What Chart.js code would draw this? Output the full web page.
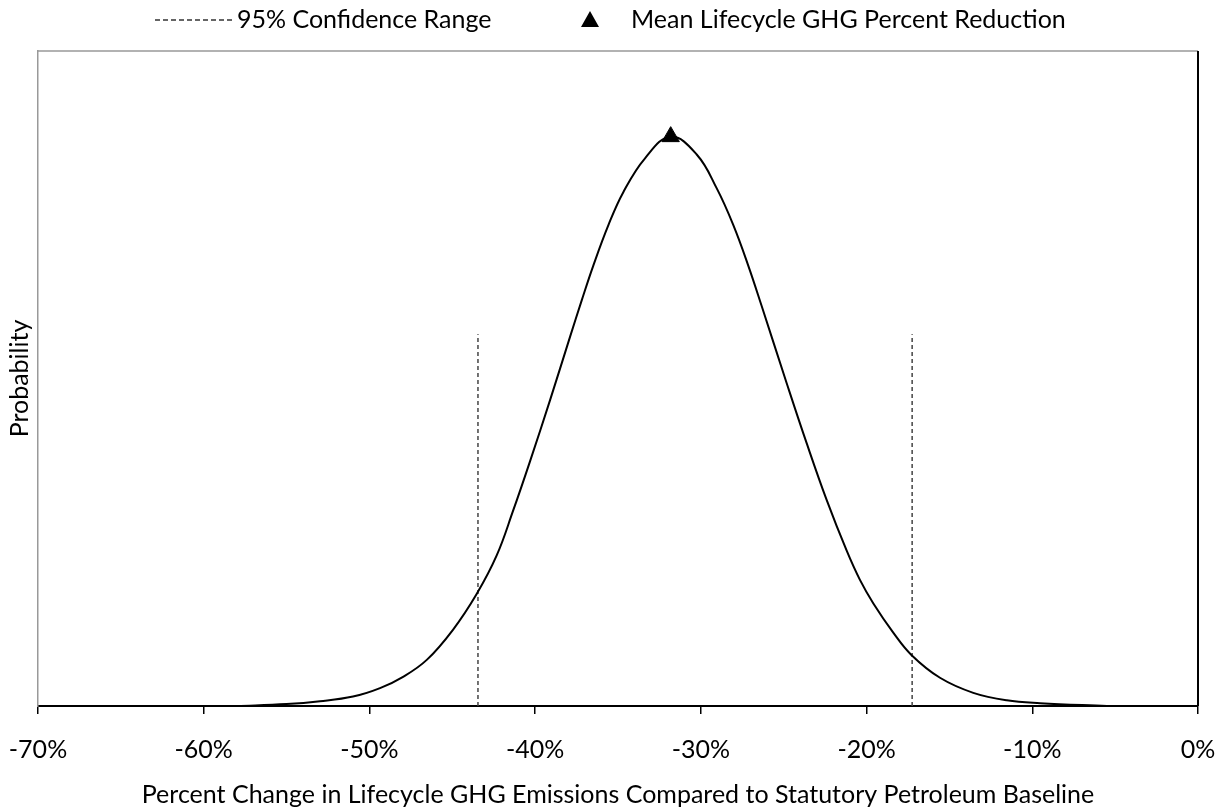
<!DOCTYPE html>
<html>
<head>
<meta charset="utf-8">
<script src="https://cdn.jsdelivr.net/npm/chart.js@4.4.0/dist/chart.umd.min.js"></script>
<style>
    html, body { margin: 0; padding: 0; background: #fff; }
    #wrap { width: 1220px; height: 810px; }
</style>
</head>
<body>
<div id="wrap"><canvas id="ghgChart" width="1220" height="810"></canvas></div>
<script>
// values (x in %, y in relative probability)
const curveX = [-58.0, -55.0, -52.98, -50.99, -49.36, -47.97, -46.54, -44.96, -43.53, -42.32,
    -41.34, -40.31, -39.10, -37.90, -37.19, -36.49, -35.58, -34.68, -33.37, -31.82,
    -30.25, -29.04, -28.04, -27.14, -26.33, -24.82, -23.61, -22.41, -21.20, -20.40,
    -19.59, -18.39, -17.28, -15.57, -13.56, -11.54, -9.53, -5.5];
const curveY = [0.0000, 0.0002, 0.0005, 0.0010, 0.0019, 0.0031, 0.0049, 0.0081, 0.0119, 0.0160,
    0.0207, 0.0260, 0.0325, 0.0392, 0.0431, 0.0468, 0.0511, 0.0546, 0.0582, 0.0605,
    0.0586, 0.0550, 0.0511, 0.0468, 0.0425, 0.0343, 0.0279, 0.0219, 0.0165, 0.0134,
    0.0109, 0.0078, 0.0054, 0.0030, 0.0014, 0.0006, 0.0003, 0.0000];

const ciLow = -43.45;
const ciHigh = -17.25;
const ciTop = 0.0395;

const meanX = -31.82;
const meanY = 0.0605;

const xTicks = [-70, -60, -50, -40, -30, -20, -10, 0];

const FONT = "Lato, 'Open Sans', sans-serif";
const FONT_SIZE = 25;

const curvePoints = curveX.map((x, i) => ({ x: x, y: curveY[i] }));

const ciPoints = [
    { x: ciLow, y: 0 }, { x: ciLow, y: ciTop },
    { x: (ciLow + ciHigh) / 2, y: null },
    { x: ciHigh, y: 0 }, { x: ciHigh, y: ciTop }
];

// legend drawn by hand so the dash and the triangle keep their own widths
const topLegend = {
    id: "topLegend",
    afterDraw(chart) {
        const ctx = chart.ctx;
        const y = 20;
        ctx.save();
        ctx.font = FONT_SIZE + "px " + FONT;
        ctx.fillStyle = "#000";
        ctx.textBaseline = "middle";

        // dashed line item
        ctx.strokeStyle = "#333";
        ctx.lineWidth = 1.5;
        ctx.setLineDash([5, 3]);
        ctx.beginPath();
        ctx.moveTo(155, y);
        ctx.lineTo(232, y);
        ctx.stroke();
        ctx.setLineDash([]);
        ctx.fillText(chart.data.datasets[1].label, 237, y);

        // triangle item
        ctx.beginPath();
        ctx.moveTo(590, y - 9);
        ctx.lineTo(599, y + 7);
        ctx.lineTo(581, y + 7);
        ctx.closePath();
        ctx.fill();
        ctx.fillText(chart.data.datasets[2].label, 631, y);
        ctx.restore();
    }
};

// top and right edges of the plot frame
const frame = {
    id: "frame",
    afterDraw(chart) {
        const a = chart.chartArea;
        const ctx = chart.ctx;
        ctx.save();
        ctx.strokeStyle = "#999";
        ctx.lineWidth = 1.5;
        ctx.beginPath();
        ctx.moveTo(a.left, a.top);
        ctx.lineTo(a.right, a.top);
        ctx.stroke();
        ctx.strokeStyle = "#000";
        ctx.lineWidth = 2;
        ctx.beginPath();
        ctx.moveTo(a.right, a.top);
        ctx.lineTo(a.right, a.bottom);
        ctx.stroke();
        ctx.restore();
    }
};

new Chart(document.getElementById("ghgChart"), {
    type: "scatter",
    data: {
        datasets: [
            {
                label: "Distribution",
                data: curvePoints,
                showLine: true,
                borderColor: "#000",
                borderWidth: 2,
                pointRadius: 0,
                tension: 0.4,
                order: 2
            },
            {
                label: "95% Confidence Range",
                data: ciPoints,
                showLine: true,
                spanGaps: false,
                borderColor: "#444",
                borderWidth: 1.5,
                borderDash: [4, 3],
                pointRadius: 0,
                tension: 0,
                order: 3
            },
            {
                label: "Mean Lifecycle GHG Percent Reduction",
                data: [{ x: meanX, y: meanY }],
                pointStyle: "triangle",
                pointRadius: 10,
                backgroundColor: "#000",
                borderColor: "#000",
                borderWidth: 1,
                order: 1
            }
        ]
    },
    options: {
        responsive: false,
        animation: false,
        layout: {
            padding: { top: 51, right: 22, left: 0, bottom: 0 }
        },
        plugins: {
            legend: { display: false },
            tooltip: { enabled: false }
        },
        scales: {
            x: {
                type: "linear",
                min: -70,
                max: 0,
                afterFit(s) {
                    s.height = 104;
                    s.paddingLeft = 0;
                    s.paddingRight = 0;
                },
                afterBuildTicks(s) { s.ticks = xTicks.map(v => ({ value: v })); },
                ticks: {
                    color: "#000",
                    font: { family: FONT, size: FONT_SIZE },
                    padding: 21,
                    maxRotation: 0,
                    callback: v => v + "%"
                },
                grid: {
                    drawOnChartArea: false,
                    color: "#000",
                    lineWidth: 1.5,
                    tickLength: 8
                },
                border: { color: "#000", width: 2 },
                title: {
                    display: true,
                    text: "Percent Change in Lifecycle GHG Emissions Compared to Statutory Petroleum Baseline",
                    color: "#000",
                    font: { family: FONT, size: FONT_SIZE },
                    padding: { top: 0, bottom: 0 }
                }
            },
            y: {
                min: 0,
                max: 0.0696,
                afterFit(s) { s.width = 38; },
                ticks: { display: false },
                grid: { display: false },
                border: { color: "#999", width: 1.5 },
                title: {
                    display: true,
                    text: "Probability",
                    color: "#000",
                    font: { family: FONT, size: FONT_SIZE },
                    padding: { top: 5, bottom: 0 }
                }
            }
        }
    },
    plugins: [topLegend, frame]
});
</script>
</body>
</html>
